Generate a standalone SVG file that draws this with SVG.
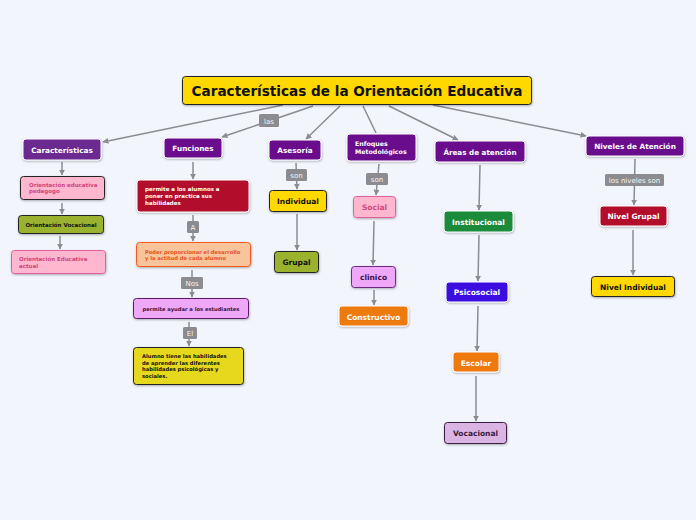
<svg xmlns="http://www.w3.org/2000/svg" width="696" height="520" viewBox="0 0 696 520">
<defs>
<style>
text{font-family:"DejaVu Sans","Verdana",sans-serif;font-weight:bold}
.c{text-anchor:middle}
.n{stroke:#ffffff;stroke-width:1}
.w{fill:#fff}
.k{fill:#111}
.edge{stroke:#8c8c90;stroke-width:1.5;fill:none}
.lb{fill:#8c8c90}
.lt{fill:#f4f4f4;font-weight:normal;font-size:7px;text-anchor:middle}
</style>
<marker id="ah" viewBox="0 0 10 10" refX="9" refY="5" markerWidth="6" markerHeight="6" markerUnits="userSpaceOnUse" orient="auto"><path d="M0,0L10,5L0,10z" fill="#8c8c90"/></marker>
<filter id="sh" x="-10%" y="-10%" width="130%" height="140%"><feDropShadow dx="0.5" dy="1" stdDeviation="0.8" flood-color="#000" flood-opacity="0.3"/></filter>
</defs>
<rect width="696" height="520" fill="#f3f5fd"/>
<g id="connectors">
<path class="edge" d="M283,105L103,142" marker-end="url(#ah)"/>
<path class="edge" d="M313,106L222,137" marker-end="url(#ah)"/>
<path class="edge" d="M340,106L306,139" marker-end="url(#ah)"/>
<path class="edge" d="M363,106L376,133"/>
<path class="edge" d="M389,106L458,140" marker-end="url(#ah)"/>
<path class="edge" d="M433,105L586,136" marker-end="url(#ah)"/>
<path class="edge" d="M62,162L62,175" marker-end="url(#ah)"/>
<path class="edge" d="M62,203L62,214" marker-end="url(#ah)"/>
<path class="edge" d="M60,236L60,249" marker-end="url(#ah)"/>
<path class="edge" d="M193,162L193,179" marker-end="url(#ah)"/>
<path class="edge" d="M193,215L193,241" marker-end="url(#ah)"/>
<path class="edge" d="M192,270L192,297" marker-end="url(#ah)"/>
<path class="edge" d="M189,322L189,346" marker-end="url(#ah)"/>
<path class="edge" d="M296,163L297,189" marker-end="url(#ah)"/>
<path class="edge" d="M297,214L297,250" marker-end="url(#ah)"/>
<path class="edge" d="M379,164L376,195" marker-end="url(#ah)"/>
<path class="edge" d="M374,221L373,265" marker-end="url(#ah)"/>
<path class="edge" d="M374,290L374,305" marker-end="url(#ah)"/>
<path class="edge" d="M480,165L479,210" marker-end="url(#ah)"/>
<path class="edge" d="M479,235L478,281" marker-end="url(#ah)"/>
<path class="edge" d="M478,306L477,351" marker-end="url(#ah)"/>
<path class="edge" d="M476,376L476,421" marker-end="url(#ah)"/>
<path class="edge" d="M635,159L634,205" marker-end="url(#ah)"/>
<path class="edge" d="M633,230L633,275" marker-end="url(#ah)"/>
<rect class="lb" x="259" y="114" width="20" height="13" rx="1.5"/><text class="lt" x="269" y="123.5">las</text>
<rect class="lb" x="286" y="169" width="21" height="12" rx="1.5"/><text class="lt" x="296.5" y="178">son</text>
<rect class="lb" x="366" y="173" width="22" height="12" rx="1.5"/><text class="lt" x="377" y="182">son</text>
<rect class="lb" x="605" y="174" width="59" height="12" rx="1.5"/><text class="lt" x="634.5" y="183">los niveles son</text>
<rect class="lb" x="187" y="221" width="12" height="12" rx="1.5"/><text class="lt" x="193" y="230">A</text>
<rect class="lb" x="181" y="277" width="22" height="12" rx="1.5"/><text class="lt" x="192" y="286">Nos</text>
<rect class="lb" x="183" y="327" width="14" height="12" rx="1.5"/><text class="lt" x="190" y="336">El</text>
</g>
<g id="title"><rect x="182.5" y="76.5" width="349" height="28" rx="3" fill="#ffd800" stroke="#222" filter="url(#sh)"/><text class="c k" x="357" y="96" font-size="13.6">Características de la Orientación Educativa</text></g>
<g id="caracteristicas"><rect class="n" x="23" y="139" width="78" height="21" rx="3" fill="#6b2a8f" filter="url(#sh)"/><text class="c w" x="62" y="152.5" font-size="7.3">Características</text></g>
<g id="funciones"><rect class="n" x="164" y="138" width="58" height="20" rx="3" fill="#6b0f8c" filter="url(#sh)"/><text class="c w" x="193" y="151" font-size="7.3">Funciones</text></g>
<g id="asesoria"><rect class="n" x="269" y="140" width="52" height="20" rx="3" fill="#6b0f8c" filter="url(#sh)"/><text class="c w" x="295" y="153" font-size="7.3">Asesoría</text></g>
<g id="enfoques"><rect class="n" x="347" y="134" width="69" height="27" rx="3" fill="#6b0f8c" filter="url(#sh)"/><text class="w" x="355" y="146" font-size="6.3">Enfoques</text><text class="w" x="355" y="154" font-size="6.3">Metodológicos</text></g>
<g id="areas"><rect class="n" x="435" y="141" width="90" height="21" rx="3" fill="#6b0f8c" filter="url(#sh)"/><text class="c w" x="480" y="154.5" font-size="7.2">Áreas de atención</text></g>
<g id="niveles"><rect class="n" x="586" y="136" width="98" height="20" rx="3" fill="#6b0f8c" filter="url(#sh)"/><text class="c w" x="635" y="148.5" font-size="7.3">Niveles de Atención</text></g>
<g id="pedagogo"><rect x="20.5" y="176.5" width="84" height="23" rx="3" fill="#ffb6cf" stroke="#222" filter="url(#sh)"/><text x="29" y="186.5" font-size="5.5" fill="#d0457c">Orientación educativa</text><text x="29" y="193" font-size="5.5" fill="#d0457c">pedagogo</text></g>
<g id="vocacional1"><rect x="18.5" y="215.5" width="85" height="18" rx="3" fill="#9ab22e" stroke="#222" filter="url(#sh)"/><text class="c k" x="61" y="227" font-size="5.5">Orientación Vocacional</text></g>
<g id="actual"><rect x="11.5" y="250.5" width="94" height="23" rx="3" fill="#ffb6cf" stroke="#e0609a" filter="url(#sh)"/><text x="19" y="261" font-size="5.5" fill="#d0457c">Orientación Educativa</text><text x="19" y="268" font-size="5.5" fill="#d0457c">actual</text></g>
<g id="permite"><rect class="n" x="137" y="180" width="112" height="32" rx="3" fill="#b20d2a" filter="url(#sh)"/><text class="w" x="145" y="191" font-size="5.5">permite a los alumnos a</text><text class="w" x="145" y="198" font-size="5.5">poner en practica sus</text><text class="w" x="145" y="205" font-size="5.5">habilidades</text></g>
<g id="poder"><rect x="136.5" y="242.5" width="114" height="24" rx="3" fill="#f7c49c" stroke="#f05a1a" filter="url(#sh)"/><text x="145" y="253.5" font-size="5.2" fill="#e8501c">Poder proporcionar el desarrollo</text><text x="145" y="260" font-size="5.2" fill="#e8501c">y la actitud de cada alumno</text></g>
<g id="ayudar"><rect x="133.5" y="298.5" width="115" height="20" rx="3" fill="#eea8f7" stroke="#5a1a6a" filter="url(#sh)"/><text class="c" x="191" y="311" font-size="5.2" fill="#3a1040">permite ayudar a los estudiantes</text></g>
<g id="alumno"><rect x="133.5" y="347.5" width="110" height="37" rx="3" fill="#e6d81e" stroke="#222" filter="url(#sh)"/><text class="k" x="142" y="358" font-size="5.2">Alumno tiene las habilidades</text><text class="k" x="142" y="364.5" font-size="5.2">de aprender las diferentes</text><text class="k" x="142" y="371" font-size="5.2">habilidades psicológicas y</text><text class="k" x="142" y="377.5" font-size="5.2">sociales.</text></g>
<g id="individual"><rect x="269.5" y="190.5" width="57" height="21" rx="3" fill="#ffd800" stroke="#222" filter="url(#sh)"/><text class="c k" x="298" y="204" font-size="7.5">Individual</text></g>
<g id="grupal"><rect x="274.5" y="251.5" width="44" height="21" rx="3" fill="#9ab22e" stroke="#222" filter="url(#sh)"/><text class="c k" x="296.5" y="265" font-size="7.5">Grupal</text></g>
<g id="social"><rect x="353.5" y="196.5" width="42" height="21" rx="3" fill="#ffb6cf" stroke="#e0609a" filter="url(#sh)"/><text class="c" x="374.5" y="210" font-size="7.5" fill="#d0457c">Social</text></g>
<g id="clinico"><rect x="351.5" y="266.5" width="44" height="21" rx="3" fill="#eea8f7" stroke="#6a2a80" filter="url(#sh)"/><text class="c" x="373.5" y="280" font-size="7.5" fill="#3a1050">clinico</text></g>
<g id="constructivo"><rect class="n" x="339" y="306" width="69" height="20" rx="3" fill="#ee7a10" filter="url(#sh)"/><text class="c w" x="373.5" y="319.5" font-size="7.5">Constructivo</text></g>
<g id="institucional"><rect class="n" x="444" y="211" width="69" height="21" rx="3" fill="#1e8a3a" filter="url(#sh)"/><text class="c w" x="478.5" y="224.5" font-size="7.5">Institucional</text></g>
<g id="psicosocial"><rect class="n" x="446" y="282" width="62" height="20" rx="3" fill="#3a10e0" filter="url(#sh)"/><text class="c w" x="477" y="295" font-size="7.5">Psicosocial</text></g>
<g id="escolar"><rect class="n" x="453" y="352" width="46" height="20" rx="3" fill="#ee7a10" filter="url(#sh)"/><text class="c w" x="476" y="365.5" font-size="7.5">Escolar</text></g>
<g id="vocacional2"><rect x="444.5" y="422.5" width="62" height="21" rx="3" fill="#dab5e3" stroke="#3a1a40" filter="url(#sh)"/><text class="c" x="475.5" y="436" font-size="7.5" fill="#3a1a40">Vocacional</text></g>
<g id="nivelgrupal"><rect class="n" x="600" y="206" width="67" height="20" rx="3" fill="#b20d2a" filter="url(#sh)"/><text class="c w" x="633.5" y="219" font-size="7.5">Nivel Grupal</text></g>
<g id="nivelindividual"><rect x="591.5" y="276.5" width="83" height="20" rx="3" fill="#ffd800" stroke="#222" filter="url(#sh)"/><text class="c k" x="633" y="289.5" font-size="7.5">Nivel Individual</text></g>
</svg>
